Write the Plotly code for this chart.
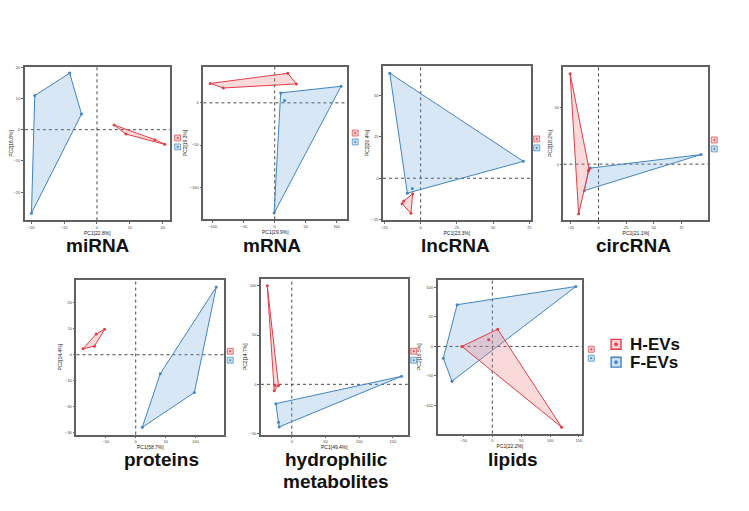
import plotly.graph_objects as go

# page body has an 8px margin, so the figure is sized to fit inside the window
OFF = 8
W, H = 749 - OFF, 511 - OFF

# ---------------- data (PC1, PC2 scores) ----------------
panel_names = ["miRNA", "mRNA", "lncRNA", "circRNA", "proteins", "hydrophilic", "lipids"]
panel_subnames = ["", "", "", "", "", "metabolites", ""]
pc1_labels = ["PC1[22.8%]", "PC1[29.9%]", "PC1[23.3%]", "PC1[21.1%]", "PC1[58.7%]", "PC1[49.4%]", "PC1[22.2%]"]
pc2_labels = ["PC2[16.8%]", "PC2[19.3%]", "PC2[20.4%]", "PC2[18.2%]", "PC2[14.4%]", "PC2[14.7%]", "PC2[15.5%]"]
group_names = ["H-EVs", "F-EVs"]

mirna_h_x = [5.2, 8.8, 17.6, 20.6]
mirna_h_y = [1.5, -1.4, -3.2, -4.7]
mirna_f_x = [-18.9, -8.3, -4.7, -19.9]
mirna_f_y = [10.9, 18.1, 5.0, -26.7]

mrna_h_x = [-104, -83, 21, 35]
mrna_h_y = [23, 17.6, 35, 22.4]
mrna_f_x = [9.6, 16, 107, -1]
mrna_f_y = [11.8, 2.7, 19.6, -130.6]

lncrna_h_x = [-5.5, -11.7, -12.8, -6.7]
lncrna_h_y = [-9.4, -13.8, -15.4, -21.2]
lncrna_f_x = [-21.3, 70.9, -9.2, -5.7]
lncrna_f_y = [63.4, 10.2, -9.0, -6.2]

circrna_h_x = [-25.7, -18.0, -9.0, -8.5]
circrna_h_y = [79.4, -43.6, -5.8, -4.5]
circrna_f_x = [-7.5, -9.2, -12.9, 92.8]
circrna_f_y = [-3.5, -6.0, -23.3, 8.4]

prot_h_x = [-88, -69, -66, -52]
prot_h_y = [2.3, 3.3, 8.0, 9.8]
prot_f_x = [134.6, 41, 98, 11]
prot_f_y = [26, -7.3, -14.5, -27.9]

hydro_h_x = [-36.4, -26, -24.6, -19.7]
hydro_h_y = [100, -6.4, -1.3, -1.3]
hydro_f_x = [-23.6, -19.7, -18.7, 162.7]
hydro_f_y = [-19.6, -38.4, -43.2, 8.1]

lipid_h_x = [-52.9, 9.2, -6.3, 120]
lipid_h_y = [0, 29.2, 11.2, -137]
lipid_f_x = [144.8, -61, -85, -70]
lipid_f_y = [101.7, 70.8, -20.2, -59]

h_x = [mirna_h_x, mrna_h_x, lncrna_h_x, circrna_h_x, prot_h_x, hydro_h_x, lipid_h_x]
h_y = [mirna_h_y, mrna_h_y, lncrna_h_y, circrna_h_y, prot_h_y, hydro_h_y, lipid_h_y]
f_x = [mirna_f_x, mrna_f_x, lncrna_f_x, circrna_f_x, prot_f_x, hydro_f_x, lipid_f_x]
f_y = [mirna_f_y, mrna_f_y, lncrna_f_y, circrna_f_y, prot_f_y, hydro_f_y, lipid_f_y]

# ---------------- layout / styling ----------------
frames = [  # window-pixel boxes x0, x1, y0, y1
    (21, 167, 65, 220),
    (201, 346, 65, 219),
    (382, 531, 64, 220),
    (564, 710, 65, 220),
    (73, 222, 280, 436),
    (259, 407, 279, 436),
    (437, 583, 280, 435),
]
xranges = [[-21.9, 22.1], [-115, 117], [-26, 76], [-31.7, 99.4], [-99, 148], [-45.7, 172], [-95, 156]]
yranges = [[-29, 20.2], [-138, 43], [-25.4, 68], [-49.4, 85.8], [-30.7, 28.8], [-51, 107], [-148, 113]]
xdt = [10, 50, 25, 25, 50, 50, 50]
ydt = [10, 50, 25, 50, 10, 50, 50]
title_pos = [(95, 245), (270, 245), (455, 245), (635, 245), (159, 461), (335, 461), (513, 461)]
mini_leg = [(175, 137), (354, 132), (537, 138), (716, 139), (228, 352), (413, 352), (592, 350)]

RED = "rgb(226,62,72)"
RED_FILL = "rgba(236,120,125,0.28)"
BLUE = "rgb(66,133,194)"
BLUE_FILL = "rgba(110,170,220,0.28)"
FRAME = "#606060"


def hull(xs, ys):
    pts = sorted(set(zip(xs, ys)))
    if len(pts) < 3:
        return pts

    def cross(o, a, b):
        return (a[0] - o[0]) * (b[1] - o[1]) - (a[1] - o[1]) * (b[0] - o[0])

    lower, upper = [], []
    for p in pts:
        while len(lower) >= 2 and cross(lower[-2], lower[-1], p) <= 0:
            lower.pop()
        lower.append(p)
    for p in reversed(pts):
        while len(upper) >= 2 and cross(upper[-2], upper[-1], p) <= 0:
            upper.pop()
        upper.append(p)
    return lower[:-1] + upper[:-1]


def px2paper(x, y):
    return (x - OFF) / W, 1 - (y - OFF) / H


fig = go.Figure()
shapes = []
annotations = []
layout_axes = {}

for i in range(7):
    xa = "x" if i == 0 else f"x{i+1}"
    ya = "y" if i == 0 else f"y{i+1}"
    x0, x1, y0, y1 = frames[i]
    dx0, dy_top = px2paper(x0, y0)
    dx1, dy_bot = px2paper(x1, y1)
    layout_axes["xaxis" if i == 0 else f"xaxis{i+1}"] = dict(
        domain=[dx0, dx1], anchor=ya, range=xranges[i], dtick=xdt[i],
        showgrid=False, zeroline=False, showline=True, mirror=True,
        linecolor=FRAME, linewidth=1.6, ticks="outside", ticklen=2, tickwidth=0.6,
        tickcolor="#666", tickfont=dict(size=4, color="#444"),
        title=dict(text=pc1_labels[i], font=dict(size=5, color="#222"), standoff=0),
    )
    layout_axes["yaxis" if i == 0 else f"yaxis{i+1}"] = dict(
        domain=[dy_bot, dy_top], anchor=xa, range=yranges[i], dtick=ydt[i],
        showgrid=False, zeroline=False, showline=True, mirror=True,
        linecolor=FRAME, linewidth=1.6, ticks="outside", ticklen=2, tickwidth=0.6,
        tickcolor="#666", tickfont=dict(size=4, color="#444"),
        title=dict(text=pc2_labels[i], font=dict(size=5, color="#222"), standoff=2),
    )
    # dotted zero reference lines
    shapes.append(dict(type="line", xref=xa, yref=f"{ya} domain", x0=0, x1=0, y0=0, y1=1,
                       line=dict(color="#333", width=0.9, dash="dot"), layer="below"))
    shapes.append(dict(type="line", xref=f"{xa} domain", yref=ya, x0=0, x1=1, y0=0, y1=0,
                       line=dict(color="#333", width=0.9, dash="dot"), layer="below"))

    for gx, gy, col, fill in [(f_x[i], f_y[i], BLUE, BLUE_FILL), (h_x[i], h_y[i], RED, RED_FILL)]:
        hp = hull(gx, gy)
        hx = [p[0] for p in hp] + [hp[0][0]]
        hy = [p[1] for p in hp] + [hp[0][1]]
        fig.add_trace(go.Scatter(x=hx, y=hy, xaxis=xa, yaxis=ya, mode="lines", fill="toself",
                                 fillcolor=fill, line=dict(color=col, width=1),
                                 showlegend=False, hoverinfo="skip"))
        fig.add_trace(go.Scatter(x=gx, y=gy, xaxis=xa, yaxis=ya, mode="markers",
                                 marker=dict(size=3, color=col), showlegend=False))

    tx, ty = title_pos[i]
    px, py = px2paper(tx, ty)
    annotations.append(dict(text=f"<b>{panel_names[i]}</b>", x=px, y=py, xref="paper", yref="paper",
                            showarrow=False, xanchor="center", yanchor="middle", borderpad=0,
                            font=dict(size=19, color="#111", family="Liberation Sans, Arial")))
    if panel_subnames[i]:
        px2, py2 = px2paper(tx, ty + 22)
        annotations.append(dict(text=f"<b>{panel_subnames[i]}</b>", x=px2, y=py2, xref="paper", yref="paper",
                                showarrow=False, xanchor="center", yanchor="middle", borderpad=0,
                                font=dict(size=19, color="#111", family="Liberation Sans, Arial")))

    # small per-panel legend keys
    lx, ly = mini_leg[i]
    for k, (col, fill) in enumerate([(RED, "rgba(236,120,125,0.35)"), (BLUE, "rgba(110,170,220,0.35)")]):
        cy = ly + k * 9
        a0, b0 = px2paper(lx - 3, cy - 3)
        a1, b1 = px2paper(lx + 3, cy + 3)
        shapes.append(dict(type="rect", xref="paper", yref="paper", x0=a0, x1=a1, y0=b1, y1=b0,
                           line=dict(color=col, width=0.7), fillcolor=fill))
        c0, d0 = px2paper(lx - 0.8, cy - 0.8)
        c1, d1 = px2paper(lx + 0.8, cy + 0.8)
        shapes.append(dict(type="circle", xref="paper", yref="paper", x0=c0, x1=c1, y0=d1, y1=d0,
                           line=dict(color=col, width=0.5), fillcolor=col))

# big legend
for k, (name, col, fill) in enumerate([(group_names[0], RED, "rgba(236,120,125,0.35)"),
                                        (group_names[1], BLUE, "rgba(110,170,220,0.35)")]):
    cx, cy = 617, 345 + k * 18
    a0, b0 = px2paper(cx - 5, cy - 5)
    a1, b1 = px2paper(cx + 5, cy + 5)
    shapes.append(dict(type="rect", xref="paper", yref="paper", x0=a0, x1=a1, y0=b1, y1=b0,
                       line=dict(color=col, width=1.4), fillcolor=fill))
    c0, d0 = px2paper(cx - 1.6, cy - 1.6)
    c1, d1 = px2paper(cx + 1.6, cy + 1.6)
    shapes.append(dict(type="circle", xref="paper", yref="paper", x0=c0, x1=c1, y0=d1, y1=d0,
                       line=dict(color=col, width=0.5), fillcolor=col))
    tx, ty = px2paper(630, cy)
    annotations.append(dict(text=f"<b>{name}</b>", x=tx, y=ty, xref="paper", yref="paper",
                            showarrow=False, xanchor="left", yanchor="middle", borderpad=0,
                            font=dict(size=17, color="#111", family="Liberation Sans, Arial")))

fig.update_layout(
    width=W, height=H, margin=dict(l=0, r=0, t=0, b=0),
    paper_bgcolor="white", plot_bgcolor="white",
    font=dict(family="Liberation Sans, Arial"),
    shapes=shapes, annotations=annotations, showlegend=False,
    **layout_axes,
)

fig.write_html("out.html")
